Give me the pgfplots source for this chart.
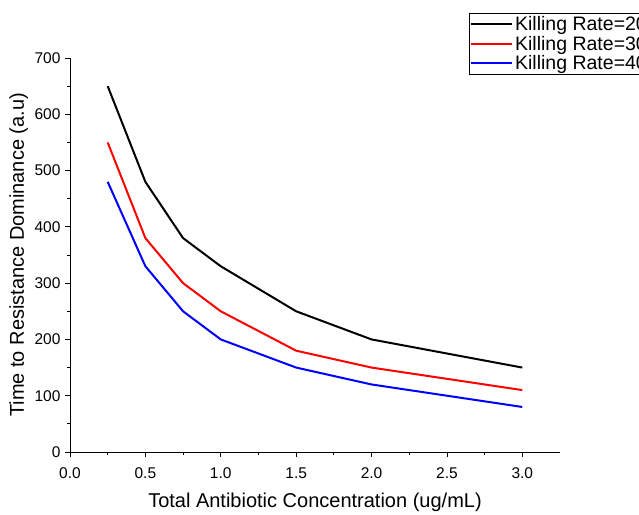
\documentclass[border=0pt]{standalone}
\usepackage{pgfplots}
\pgfplotsset{compat=1.18}
\usepackage{fontspec}
\setmainfont{Liberation Sans}
\newcommand\tickfont{\fontsize{15.5}{18}\selectfont}
\newcommand\labelfont{\fontsize{20}{24}\selectfont}
\newcommand\legendfont{\fontsize{19.5}{23}\selectfont}
\begin{document}
\begin{tikzpicture}
  \begin{axis}[
      scale only axis, width=490pt, height=394pt,
      xmin=0, xmax=3.25, ymin=0, ymax=700,
      axis x line*=bottom, axis y line*=left,
      axis line style={-, line width=0.8pt},
      tick align=outside, tick style={black, line width=0.8pt},
      major tick length=5pt, minor tick length=3pt,
      xtick={0,0.5,...,3}, ytick={0,100,...,700},
      minor x tick num=1, minor y tick num=1,
      /pgf/number format/assume math mode=true,
      tick label style={font=\tickfont},
      xticklabel style={yshift=-7pt, /pgf/number format/fixed,
                        /pgf/number format/fixed zerofill, /pgf/number format/precision=1},
      yticklabel style={xshift=-1pt},
      label style={font=\labelfont},
      xlabel={Total Antibiotic Concentration (ug/mL)},
      ylabel={Time to Resistance Dominance (a.u)},
      xlabel style={at={(axis description cs:0.5,-0.142)}, anchor=base},
      ylabel style={at={(axis description cs:-0.094,0.5)}, anchor=base},
      legend cell align=left,
      legend style={font=\legendfont, at={(0.814,1.114)}, anchor=north west,
                    draw=black, line width=0.6pt, inner sep=1pt, row sep=0pt},
      legend image code/.code={\draw[#1, line width=2pt] (0pt,0pt) -- (41pt,0pt);},
    ]
    \addplot[black, line width=2pt] coordinates {(0.25,650) (0.5,480) (0.75,380) (1,330) (1.5,250) (2,200) (3,150)};
    \addplot[red, line width=2pt] coordinates {(0.25,550) (0.5,380) (0.75,300) (1,250) (1.5,180) (2,150) (3,110)};
    \addplot[blue, line width=2pt] coordinates {(0.25,480) (0.5,330) (0.75,250) (1,200) (1.5,150) (2,120) (3,80)};
    \legend{Killing Rate=20, Killing Rate=30, Killing Rate=40}
  \end{axis}
  \pgfresetboundingbox
  \useasboundingbox (-70pt,-62pt) rectangle (569pt,452pt);
\end{tikzpicture}
\end{document}
